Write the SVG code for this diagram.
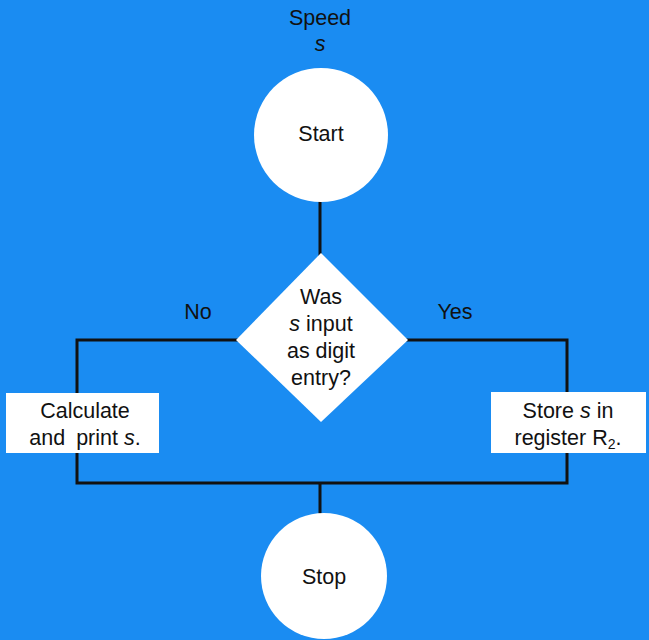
<svg xmlns="http://www.w3.org/2000/svg" width="649" height="640" viewBox="0 0 649 640">
<style>
.t{font-family:"Liberation Sans",Arial,sans-serif;font-size:21.5px;fill:#111;text-anchor:middle}
.i{font-style:italic}
.n{fill:#fff;stroke:none}
.c{fill:none;stroke:#111;stroke-width:3}
</style>
<rect width="649" height="640" fill="#1a8cf2"/>
<g id="connectors">
<line class="c" x1="320" y1="200" x2="320" y2="256"/>
<polyline class="c" points="238,340 77,340 77,483 567,483 567,340 406,340"/>
<line class="c" x1="320" y1="483" x2="320" y2="515"/>
</g>
<g id="label-speed">
<text class="t" x="320" y="25">Speed</text>
<text class="t i" x="320" y="51">s</text>
</g>
<g id="start">
<circle class="n" cx="321" cy="135" r="67"/>
<text class="t" x="321" y="141">Start</text>
</g>
<g id="decision">
<polygon class="n" points="321,253 408,340 321,422 236,340"/>
<text class="t" x="321" y="304">Was</text>
<text class="t" x="321" y="331"><tspan class="i">s</tspan> input</text>
<text class="t" x="321" y="358">as digit</text>
<text class="t" x="321" y="385">entry?</text>
</g>
<g id="label-no"><text class="t" x="198" y="319">No</text></g>
<g id="label-yes"><text class="t" x="455" y="319">Yes</text></g>
<g id="calc">
<rect class="n" x="6" y="393" width="153" height="60"/>
<text class="t" x="85" y="418">Calculate</text>
<text class="t" x="85" y="445">and <tspan dx="5">print</tspan> <tspan class="i">s</tspan>.</text>
</g>
<g id="store">
<rect class="n" x="491" y="392" width="155" height="61"/>
<text class="t" x="568" y="418">Store <tspan class="i">s</tspan> in</text>
<text class="t" x="568" y="445">register R<tspan font-size="14" dy="4">2</tspan><tspan dy="-4">.</tspan></text>
</g>
<g id="stop">
<circle class="n" cx="324" cy="576" r="63"/>
<text class="t" x="324" y="584">Stop</text>
</g>
</svg>
